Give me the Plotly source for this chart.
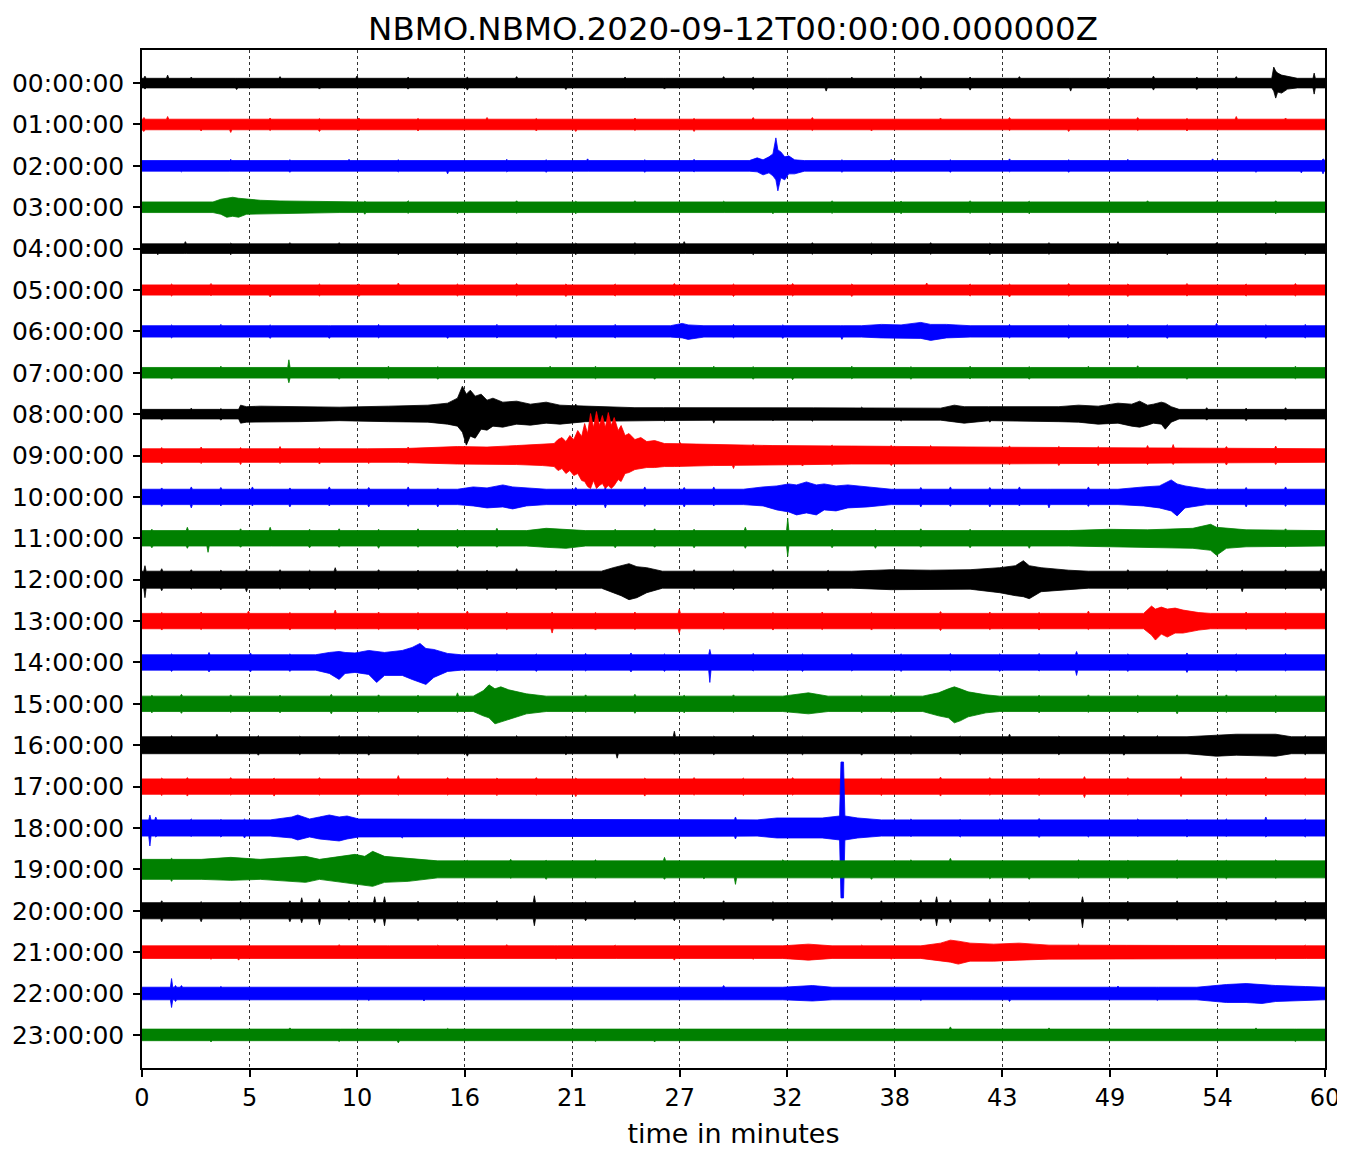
import numpy as np
import plotly.graph_objects as go

TITLE = "NBMO.NBMO.2020-09-12T00:00:00.000000Z"
HOURS = [f"{h:02d}:00:00" for h in range(24)]
X_TICK_LABELS = ["0", "5", "10", "16", "21", "27", "32", "38", "43", "49", "54", "60"]
COLORS = ["#000000", "#ff0000", "#0000ff", "#008000"]

# amplitude units: arbitrary counts; ROW_NORM converts counts to one hour-row spacing
ROW_NORM = 41.4

# per-hour baseline half-amplitude of the trace core (counts)
BASE = [4.8, 5.3, 5.3, 5.3, 4.8, 5.1, 5.7, 5.3, 4.8, 6.8, 7.7, 7.7,
        8.5, 7.7, 7.7, 7.7, 8.5, 7.7, 8.1, 8.5, 8.1, 6.3, 6.3, 5.8]

# broad envelope features: (minute, upper amplitude, lower amplitude)
BROAD = {
    0: [(57.3, 4.8, 4.8), (57.4, 16, 8), (57.5, 12, 15), (57.6, 10, 9), (57.8, 8, 10), (58.1, 7, 6), (58.6, 4.8, 4.8)],
    2: [(30.8, 5.3, 5.3), (31.2, 8, 6), (31.5, 6, 9), (31.8, 9, 7), (32.0, 12, 10), (32.15, 28, 14), (32.25, 16, 25),
        (32.4, 14, 12), (32.6, 9, 14), (32.8, 10, 8), (33.1, 6, 8), (33.6, 5.3, 5.3)],
    3: [(3.6, 5.3, 5.3), (4.0, 8, 7), (4.3, 9, 10), (4.6, 10, 9), (4.9, 9, 10), (5.3, 8, 7), (6.0, 7, 6.5),
        (7.0, 6.3, 6.3), (8.5, 5.8, 5.8), (10, 5.3, 5.3)],
    6: [(26.8, 5.7, 5.7), (27.4, 8, 6.5), (27.7, 6.5, 8), (28.5, 5.7, 5.7), (36.5, 5.7, 5.7), (37.5, 7, 6.5),
        (38.5, 6.5, 7), (39.5, 9, 7), (40.0, 7, 9), (40.8, 7, 6.5), (42, 5.7, 5.7)],
    8: [(4.9, 4.8, 4.8), (5.0, 9, 9), (5.3, 7.5, 8), (6, 8, 7.5), (8, 7.5, 7.5), (10, 7, 6.5), (12.5, 8, 7.5), (14.5, 9, 8),
        (15.5, 11, 10), (16.0, 16, 12), (16.25, 28, 18), (16.45, 20, 31), (16.65, 24, 22), (16.9, 18, 24),
        (17.2, 20, 15), (17.5, 14, 16), (17.8, 16, 12), (18.3, 12, 13), (19, 13, 10), (19.7, 10, 11),
        (20.5, 12, 9), (21.2, 9, 10), (22.5, 8, 7.5), (25, 6.5, 6.5), (30, 6.5, 6), (40.5, 6, 6),
        (41.2, 9, 7.5), (41.7, 7.5, 9), (43, 7.5, 6.5), (46.5, 7.5, 7.5), (47.5, 9, 8), (48.5, 8, 10), (49.5, 11, 9),
        (50.2, 10, 12), (50.6, 13, 13), (51.0, 9, 11), (51.3, 10, 9), (51.7, 12, 10), (51.9, 11, 15),
        (52.2, 7.5, 8), (52.6, 4.8, 4.8)],
    9: [(13, 6.8, 6.8), (16, 9, 8.5), (17.5, 8.5, 9), (19, 10, 9), (20.3, 11, 10), (20.9, 12, 11), (21.1, 16, 15),
        (21.3, 18, 13), (21.5, 14, 18), (21.7, 20, 15), (21.9, 16, 20), (22.1, 25, 18), (22.3, 19, 25),
        (22.45, 32, 26), (22.6, 22, 31), (22.75, 42, 33), (22.9, 28, 25), (23.05, 44, 33), (23.2, 30, 30),
        (23.35, 40, 28), (23.5, 28, 33), (23.65, 43, 30), (23.8, 30, 33), (23.95, 38, 30), (24.15, 25, 24),
        (24.3, 30, 26), (24.5, 20, 18), (24.7, 22, 17), (25.0, 16, 14), (25.3, 18, 13), (25.6, 14, 12),
        (26, 15, 12), (26.5, 12, 11), (27, 12, 11), (29, 11, 10), (32, 10, 9.5), (36, 9.5, 8.5), (42, 8.5, 8.5)],
    10: [(16, 7.7, 7.7), (16.8, 10, 9), (17.5, 9, 11), (18.3, 12, 10), (18.8, 10, 12), (19.5, 9, 9), (20.5, 7.7, 7.7),
         (30.5, 7.7, 7.7), (31.5, 10, 9), (32.2, 11, 13), (32.8, 13, 15), (33.2, 12, 18), (33.7, 15, 16),
         (34.2, 12, 18), (34.6, 13, 13), (35.2, 11, 14), (35.8, 12, 11), (36.8, 10, 10), (38, 7.7, 7.7),
         (49.5, 7.7, 7.7), (50.8, 10, 9), (51.6, 11, 11), (52.2, 17, 14), (52.5, 13, 19), (52.9, 11, 11),
         (54, 7.7, 7.7)],
    11: [(19.5, 7.7, 7.7), (20.5, 10, 9), (21.5, 9, 10), (22.5, 7.7, 7.7), (47, 7.7, 7.7), (49, 9, 8.5),
         (51, 8.5, 9), (53.3, 10, 10), (54.2, 14, 12), (54.5, 11, 17), (55, 10, 10), (56, 8.5, 8.5)],
    12: [(23.3, 8.5, 8.5), (23.9, 12, 13), (24.3, 14, 16), (24.7, 16, 20), (25.1, 13, 18), (25.6, 12, 13), (26.4, 8.5, 8.5),
         (36, 8.5, 8.5), (38, 10, 10), (40, 9.5, 10), (42, 10, 9.5), (43.5, 12, 13), (44.3, 14, 16), (44.7, 19, 17),
         (45.0, 14, 19), (45.6, 12, 12), (47, 9.5, 10), (48, 8.5, 8.5)],
    13: [(50.8, 7.7, 7.7), (51.2, 15, 14), (51.4, 12, 19), (51.7, 14, 13), (52.0, 12, 16), (52.4, 13, 12),
         (52.8, 11, 12), (53.6, 8.5, 9), (54.2, 7.7, 7.7)],
    14: [(8.8, 7.7, 7.7), (9.5, 10, 11), (10.0, 11, 17), (10.3, 10, 11), (10.8, 9.5, 10), (11.5, 12, 12),
         (11.9, 11, 20), (12.3, 10, 13), (13.2, 12, 13), (13.7, 15, 17), (14.1, 19, 20), (14.4, 14, 22),
         (14.8, 13, 15), (15.5, 9, 9), (16.2, 7.7, 7.7)],
    15: [(16.8, 7.7, 7.7), (17.3, 13, 12), (17.6, 19, 14), (17.9, 15, 20), (18.2, 17, 18), (18.6, 14, 16),
         (19.5, 10, 10), (20.5, 7.7, 7.7), (32.5, 7.7, 7.7), (33.8, 11, 10), (34.8, 7.7, 7.7), (39.6, 7.7, 7.7),
         (40.4, 11, 12), (40.9, 15, 14), (41.2, 17, 19), (41.5, 15, 17), (41.9, 12, 13), (42.8, 9, 9),
         (43.5, 7.7, 7.7)],
    16: [(53, 8.5, 8.5), (54.5, 10, 11), (55.5, 11, 10), (57.5, 11, 11), (58.3, 8.5, 8.5)],
    18: [(6.5, 8.1, 8.1), (7.6, 11, 10), (7.9, 13, 12), (8.5, 9, 9), (9.0, 11, 11), (9.5, 13, 12), (10.0, 11, 13),
         (10.4, 12, 11), (11, 9, 9), (31.2, 8.1, 8.1), (32.2, 10, 10), (34.5, 10, 10), (35.38, 12, 12),
         (35.45, 66, 70), (35.58, 66, 70), (35.65, 12, 12), (36.3, 10, 10), (37.5, 8.1, 8.1)],
    19: [(0, 10, 10), (3, 10, 10), (4.5, 12, 11), (6, 10, 10), (7.5, 12, 12), (8.3, 13, 13), (9, 10, 10),
         (10.2, 13, 13), (10.8, 15, 14), (11.3, 13, 16), (11.7, 18, 17), (12.3, 13, 13), (13.5, 11, 12),
         (15, 8.5, 8.5)],
    21: [(32.5, 6.3, 6.3), (33.8, 8, 8), (35, 6.3, 6.3), (39.5, 6.3, 6.3), (40.5, 9, 9), (41.0, 12, 10),
         (41.4, 11, 12), (42, 9, 9), (43.2, 8, 9), (44.5, 9, 8), (46, 7, 7)],
    22: [(32.5, 6.3, 6.3), (34, 8, 7.5), (35, 6.3, 6.3), (53.5, 6.3, 6.3), (55, 9, 9), (56.0, 10, 9),
         (56.8, 9, 10), (57.5, 8, 8), (59, 7, 7)],
}

# short spikes: (minute, upper amplitude, lower amplitude)
SPIKES = {
    0: [(0.15, 7, 6), (1.3, 8, 5), (2.5, 6, 5), (4.8, 5, 6.5), (7, 6.5, 5), (9, 5, 6), (10.9, 7, 5),
        (13.5, 6, 6), (16.5, 6, 7), (19, 6.5, 5), (21.5, 5, 6.5), (24.5, 6, 5), (26.5, 5, 6), (29.5, 6.5, 5),
        (31, 6, 6.5), (34.7, 5, 8), (36, 6, 5), (39.5, 7, 6), (42, 6, 7), (44.5, 6.5, 5), (47.1, 5, 8),
        (49, 6, 6), (51.3, 7, 7), (53.5, 6, 6.5), (55.5, 6.5, 5), (59.45, 10, 11)],
    1: [(0.1, 7, 7), (1.3, 8, 6), (3, 6, 6.5), (4.5, 6, 8), (6.5, 6.5, 6), (9, 6, 7), (11, 6.5, 6), (14, 6, 6.5),
        (17.5, 7, 6), (20, 6, 6.5), (22.0, 6, 7), (25, 6.5, 6), (28, 6, 7), (31, 7, 6), (34.0, 7, 6),
        (37, 6, 6.5), (40.5, 6.5, 6), (44, 7, 6), (47, 6, 7), (50.5, 7, 6), (53, 6, 6.5), (55.5, 8, 6), (58, 6.5, 6)],
    2: [(2, 6, 6), (4.5, 6.5, 5.5), (7.5, 6, 6.5), (10.5, 6.5, 6), (13, 6, 6), (15.5, 5, 8), (18.5, 6.5, 6),
        (20.5, 6, 6.5), (22.6, 7, 5), (25.5, 6, 6.5), (28, 6.5, 6), (35.5, 6, 6.5), (38, 6.5, 6), (41, 6, 6.5),
        (44, 7, 6), (47, 6, 6.5), (50, 6.5, 6), (54.3, 7, 5), (56.5, 6, 6.5), (58.8, 6, 7), (59.9, 7, 8)],
    3: [(1.5, 6, 6), (11.3, 6, 7), (13.5, 6.5, 6), (16, 6, 6.5), (19, 6.5, 6), (22, 6, 6.5), (25, 6.5, 6),
        (29.5, 6, 5), (32, 6, 6.5), (35, 6.5, 6), (38.5, 6, 6.5), (42, 6.5, 6), (45, 6, 6.5), (48, 6, 5),
        (51, 6.5, 6), (54.5, 6, 6), (57.5, 6.5, 6.5)],
    4: [(0.8, 5.5, 6), (2.2, 7, 5), (4.5, 5.5, 6), (7.5, 6, 5.5), (10.0, 6, 5), (13, 5.5, 6), (16, 5, 6),
        (19, 6, 5.5), (22, 5.5, 6), (25, 6, 5.5), (27.5, 7, 5), (31, 5.5, 6), (34, 6, 5.5), (37, 5.5, 6),
        (40, 6, 5.5), (43, 5.5, 6), (46, 6, 5.5), (49.5, 7, 5), (52, 5.5, 6), (54.5, 6, 5.5), (57, 6, 6), (59, 5.5, 6)],
    5: [(1.5, 6, 6), (3.5, 6.5, 5.5), (6.5, 5, 7), (9, 6, 6), (11, 6, 6.5), (13, 7, 5), (16, 6, 6), (19, 6.5, 6),
        (21.5, 6, 6.5), (24, 6, 6), (27, 6.5, 6), (30, 6, 6.5), (33, 6.5, 6), (36, 6, 6.5), (39.8, 7, 5),
        (42, 6, 6), (44, 6, 7), (47, 6.5, 6), (50, 6, 6.5), (53, 6.5, 6), (56, 6, 6), (58.5, 6.5, 6)],
    6: [(1.5, 6.5, 6.5), (4, 7, 6), (6.5, 6.5, 7), (9.5, 6, 7), (12, 7, 6.5), (15.5, 5, 7), (18, 7, 6.5),
        (21, 6.5, 7), (24, 7, 6.5), (30, 7, 6.5), (32.5, 6.5, 7), (35.5, 6, 8), (44, 7, 6.5), (47, 6.5, 7),
        (50, 7, 6.5), (52, 6.5, 7), (54.5, 8, 5), (57, 6.5, 7), (59, 7, 6.5)],
    7: [(1.5, 6, 6.5), (4, 6.5, 6), (7.45, 13, 10), (10, 6, 6.5), (12.5, 6.5, 6), (15, 6, 6.5), (17.5, 6, 6),
        (20.7, 6.5, 5), (23, 6.5, 6), (26, 6, 6.5), (29, 6.5, 6), (31, 6, 6.5), (33, 5, 7), (36, 6.5, 6),
        (39, 6, 6.5), (42, 6.5, 6), (45, 6, 6.5), (48, 6.5, 6), (50.5, 7, 5), (53, 6, 6.5), (56, 6, 6), (58.5, 6.5, 6)],
    8: [(1, 5.5, 6), (2.5, 6, 5.5), (4, 5.5, 6), (22.0, 10, 8), (24, 7, 6.5), (26.5, 6.5, 7), (29, 6, 9),
        (32, 7, 6.5), (34, 6.5, 7), (36.5, 7, 6.5), (38.5, 6.5, 7), (43, 6, 8), (45, 7, 7), (54, 6.5, 6),
        (56, 6, 6.5), (58, 6.5, 6)],
    9: [(1, 8, 8.5), (3, 8.5, 8), (5, 8, 9), (7, 9, 8), (9, 8, 8.5), (11.5, 6, 8), (13.5, 8.5, 8), (27.3, 13, 10),
        (28.2, 11, 11), (30, 10, 13), (31, 11, 10), (33.5, 10, 10.5), (35, 10.5, 10), (38, 10, 10), (40, 10, 9),
        (44, 9.5, 9), (46.5, 9, 10), (48.5, 9, 10), (51, 10, 9), (52.3, 11, 9), (55, 9, 9.5), (57.5, 9.5, 9)],
    10: [(1, 9, 9.5), (2.5, 10, 11), (4, 9.5, 9), (5.6, 10, 9), (7.5, 9, 10), (9.5, 10, 9), (11.5, 9.5, 10),
         (13.5, 10, 9.5), (15, 9, 10), (22, 9.5, 9), (23.5, 9, 11), (25.5, 10, 9.5), (27.5, 9.5, 10), (29, 10, 9),
         (39.5, 9.5, 10), (41, 10, 9.5), (43, 9.5, 10), (44.5, 10, 9), (46, 8, 11), (48, 10, 9.5), (56, 9.5, 10),
         (58, 10, 9.5)],
    11: [(0.5, 9, 9.5), (2.3, 11, 10), (3.35, 8, 14), (5, 9.5, 9), (6.5, 11, 8), (8.5, 9, 9.5), (10, 9.5, 9),
         (12, 9, 10), (14, 9.5, 9), (16, 9, 9.5), (18, 10, 9), (24, 9, 9.5), (26, 9.5, 9), (28, 9, 9.5),
         (30.6, 11, 10), (32.75, 20, 18), (35, 9, 9.5), (37.2, 9, 10), (39.5, 9.5, 9), (42, 9, 9.5), (45, 8, 10),
         (58, 9.5, 9)],
    12: [(0.15, 14, 18), (1.0, 11, 11), (2.5, 10, 9.5), (4, 9.5, 10), (5.3, 10, 12), (7, 10, 9.5), (8.5, 9.5, 10),
         (9.8, 12, 10), (12, 10, 9.5), (14, 9.5, 10), (16, 10, 9.5), (17.5, 9.5, 10), (19, 11, 9.5), (21, 9.5, 10),
         (28, 10, 9.5), (30, 9.5, 10), (32, 10, 9.5), (34.8, 9.5, 11), (50, 10, 9.5), (52, 9.5, 10),
         (54, 10, 9.5), (55.8, 9.5, 12), (58, 10, 9.5), (59.8, 11, 11)],
    13: [(1, 8.5, 9), (3, 9, 8.5), (5.4, 10, 8.5), (7.5, 8.5, 9), (9.8, 11, 8.5), (12, 9, 8.5), (14, 8.5, 9),
         (16.5, 10, 8.5), (18.5, 9, 8.5), (20.8, 9, 12), (23, 8.5, 9), (25, 9, 8.5), (27.25, 12, 12), (29.5, 9, 8.5),
         (32, 8.5, 9), (34.5, 9, 8.5), (37, 8.5, 9), (40.5, 9.5, 9.5), (43, 9, 8.5), (45.5, 8.5, 9), (48, 10, 8.5),
         (56, 9, 8.5), (58, 8.5, 9)],
    14: [(1.5, 8.5, 9), (3.4, 10, 9.5), (5.5, 9.5, 9.5), (7.5, 8.5, 9), (18, 9, 8.5), (20, 8.5, 9), (22.5, 9, 8.5),
         (24.8, 9.5, 9.5), (26.5, 8.5, 9), (28.8, 13, 20), (31, 9, 8.5), (33.5, 8.5, 9), (36, 9, 8.5),
         (38.5, 8.5, 9), (41, 9, 8.5), (43.5, 8.5, 9), (45.5, 9, 8.5), (47.4, 11, 13), (50, 8.5, 9), (53, 9.5, 10),
         (55.5, 8.5, 9), (58, 9, 8.5)],
    15: [(0.5, 8.5, 9), (2, 9.5, 9.5), (4.5, 9, 8.5), (7, 8.5, 9), (9.6, 9.5, 10), (12, 9, 8.5), (14, 8.5, 9),
         (16.0, 11, 8.5), (22.5, 9, 8.5), (25, 9.5, 9.5), (27.5, 8.5, 9), (30, 9, 8.5), (36.5, 8.5, 9), (38, 9, 8.5),
         (45.5, 8.5, 9), (48, 9, 8.5), (50.5, 8.5, 9), (52.5, 9, 10), (55, 9, 8.5), (57.5, 8.5, 9)],
    16: [(1.5, 9.5, 9), (3.8, 11, 9), (5.9, 9.5, 10), (8, 9, 9.5), (10, 9.5, 9), (11.5, 9, 10), (14, 9.5, 9),
         (16.5, 9, 11), (19, 9.5, 9), (21.5, 9, 9.5), (24.1, 9, 13), (27.0, 14, 9), (29, 9, 9.5), (31, 10, 9),
         (33.5, 9, 9.5), (36.5, 9, 10), (39, 9.5, 9), (41.5, 9, 9.5), (44, 11, 9), (46.5, 9, 9.5), (49.8, 10, 10),
         (51.5, 9.5, 9), (59, 9.5, 9.5)],
    17: [(1, 8.5, 9), (2.3, 9, 9.5), (4.5, 9, 8.5), (6.7, 8.5, 9.5), (9, 9, 8.5), (11, 8.5, 9), (13.0, 11, 8.5),
         (15.5, 9, 8.5), (18, 8.5, 9), (20, 9, 8.5), (22, 8.5, 10), (25.5, 8.5, 9.5), (28, 9, 8.5), (30.5, 8.5, 9),
         (33, 9, 8.5), (37.5, 8.5, 9), (40.5, 9.5, 9.5), (43, 9, 8.5), (45.5, 8.5, 9), (47.8, 10, 11),
         (50, 9, 8.5), (52.7, 10, 10), (55, 8.5, 9), (57, 9.5, 9.5), (59, 9, 8.5)],
    18: [(0.4, 13, 18), (0.7, 11, 9), (2.5, 9, 8.5), (4, 8.5, 9), (5.2, 9, 10), (12, 9, 8.5), (13.2, 8.5, 10),
         (15, 9, 8.5), (17, 8.5, 9), (19.5, 9, 8.5), (22, 8.5, 9), (24.5, 9, 8.5), (27, 8.5, 9), (30.1, 11, 11),
         (39, 9, 8.5), (41.5, 8.5, 9), (43.5, 9, 8.5), (45.5, 9.5, 9.5), (48, 8.5, 9), (50.5, 9, 8.5),
         (53, 8.5, 9), (55, 9, 8.5), (57, 11, 9), (59, 9, 9)],
    19: [(1.5, 11, 12), (16.5, 9, 8.5), (18.7, 10, 9), (20.5, 9, 10), (23, 9.5, 9), (26.5, 12, 10),
         (28.5, 9, 9.5), (30.1, 9, 15), (32.5, 9.5, 9), (35, 9, 9.5), (37, 9, 10), (39, 9.5, 9), (41, 11, 9),
         (43, 9, 9.5), (45, 9, 10), (47.5, 9.5, 9), (50, 9, 9.5), (52.5, 9.5, 9), (55, 9, 9.5), (57.5, 9.5, 9)],
    20: [(1, 10, 11), (3, 9, 11), (5, 9.5, 9), (7.5, 10, 11), (8.1, 13, 12), (9.0, 12, 14), (10.5, 10, 9.5),
         (11.8, 14, 12), (12.3, 14, 15), (14, 9.5, 10), (16, 9, 10), (18, 10, 9.5), (19.9, 15, 15), (22.5, 9, 10),
         (25, 10, 9), (27, 9.5, 10), (29.5, 10, 9.5), (32, 9, 10), (35, 9.5, 9.5), (37.5, 10, 9.5), (39.5, 11, 10),
         (40.3, 14, 15), (41, 11, 12), (43, 12, 11), (45, 9, 10), (47.7, 14, 17), (50, 9.5, 10), (52.5, 10, 9.5),
         (55, 9.5, 9.5), (57.5, 10, 9.5), (59, 9.5, 10)],
    21: [(1.5, 7, 6.5), (3.5, 6.5, 7), (4.9, 7, 8), (7, 7, 6.5), (10, 7.5, 7), (12.5, 6.5, 7), (15, 7, 6.5),
         (18.5, 7.5, 7), (21, 6.5, 7), (24, 7, 6.5), (27, 7, 8), (29.5, 7, 6.5), (31, 6.5, 7), (36.5, 7, 6.5),
         (38, 6.5, 7), (47.5, 8, 7), (50, 7, 6.5), (52.5, 6.5, 7), (55, 7, 6.5), (57.5, 6.5, 7), (59, 7, 6.5)],
    22: [(1.5, 15, 14), (1.7, 8, 8), (2.0, 8, 6), (4, 7, 6.5), (6.5, 6.5, 7), (9, 7, 6.5), (11.5, 6.5, 7),
         (14.3, 6, 7.5), (17, 7, 6.5), (19.5, 6.5, 7), (22, 7, 6.5), (24.5, 6.5, 7), (27, 7, 6.5), (29.5, 8, 6),
         (37, 7, 6.5), (39.5, 6.5, 7), (42, 7, 6.5), (44, 6, 8), (46.5, 7, 6.5), (49.5, 7.5, 7), (51.5, 6.5, 7)],
    23: [(1.5, 6.5, 6), (3.5, 6, 7), (5.5, 6.5, 6), (7.5, 7, 6), (10, 6, 6.5), (13, 6, 8), (15.5, 6.5, 6),
         (18, 6, 6.5), (20.5, 6.5, 6), (23, 6, 6.5), (26, 6, 7), (28.5, 6.5, 6), (31, 6, 6.5), (33.5, 6.5, 6),
         (36, 6, 6.5), (38.5, 6.5, 6), (41, 8, 6), (43.5, 6, 6.5), (46, 7, 6), (48.5, 6, 6.5), (51, 6.5, 6),
         (53.5, 6, 6.5), (56.5, 7, 6), (58.5, 6, 6.5)],
}

SPIKE_HALF = 0.06  # minutes


def envelope(row):
    b = BASE[row]
    knots = list(BROAD.get(row, []))
    if not knots or knots[0][0] > 0:
        knots.insert(0, (0.0, b, b))
    if knots[-1][0] < 60:
        knots.append((60.0, b, b))
    kt = np.array([k[0] for k in knots])
    ku = np.array([k[1] for k in knots])
    kd = np.array([k[2] for k in knots])
    pts = {t: (u, d) for t, u, d in knots}
    for t, u, d in SPIKES.get(row, []):
        for tt in (t - SPIKE_HALF, t + SPIKE_HALF):
            tt = min(max(tt, 0.0), 60.0)
            if tt not in pts:
                pts[tt] = (float(np.interp(tt, kt, ku)), float(np.interp(tt, kt, kd)))
        pts[t] = (max(u, float(np.interp(t, kt, ku))), max(d, float(np.interp(t, kt, kd))))
    ts = sorted(pts)
    up = [pts[t][0] for t in ts]
    dn = [pts[t][1] for t in ts]
    return ts, up, dn


fig = go.Figure()
for row in range(24):
    ts, up, dn = envelope(row)
    xs = ts + ts[::-1]
    ys = [row - u / ROW_NORM for u in up] + [row + d / ROW_NORM for d in dn[::-1]]
    c = COLORS[row % 4]
    fig.add_trace(go.Scatter(x=xs, y=ys, mode="lines", fill="toself", fillcolor=c,
                             line=dict(color=c, width=0.8), hoverinfo="skip", showlegend=False))

x_tickvals = [i * 60 / 11 for i in range(12)]

fig.update_layout(
    width=1345, height=1149,
    margin=dict(l=134, r=28, t=42, b=89, autoexpand=False),
    plot_bgcolor="white", paper_bgcolor="white",
    font=dict(family="DejaVu Sans", size=24, color="black"),
    title=dict(text=TITLE, x=725 / 1345, xanchor="center", y=1 - 21 / 1149, yanchor="middle",
               font=dict(size=32.5, family="DejaVu Sans", color="black")),
    xaxis=dict(range=[0, 60], tickvals=x_tickvals, ticktext=X_TICK_LABELS, automargin=False,
               showgrid=True, gridcolor="#333333", gridwidth=1, griddash="dot",
               ticks="outside", ticklen=7, tickwidth=1.5, tickcolor="black",
               showline=True, linecolor="black", linewidth=1.6, mirror=True, zeroline=False,
               tickfont=dict(size=24),
               title=dict(text="time in minutes", font=dict(size=27), standoff=14)),
    yaxis=dict(range=[23.8, -0.8], tickvals=list(range(24)), ticktext=HOURS, automargin=False,
               showgrid=False, ticks="outside", ticklen=7, tickwidth=1.5, tickcolor="black",
               showline=True, linecolor="black", linewidth=1.6, mirror=True, zeroline=False,
               ticklabelstandoff=4, tickfont=dict(size=25)),
)

fig.write_html("out.html")
